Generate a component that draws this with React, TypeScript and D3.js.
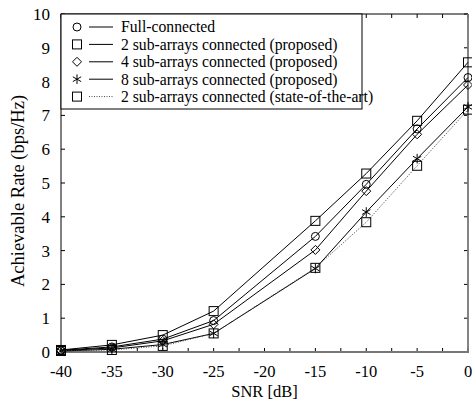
import React from "react";
import * as d3 from "d3";

const snr = [-40, -35, -30, -25, -15, -10, -5, 0];
const fullConnected = [0.05, 0.15, 0.38, 0.93, 3.42, 4.96, 6.6, 8.12];
const sub2Proposed = [0.06, 0.21, 0.5, 1.21, 3.88, 5.28, 6.84, 8.57];
const sub4Proposed = [0.04, 0.12, 0.33, 0.82, 3.02, 4.76, 6.44, 7.9];
const sub8Proposed = [0.03, 0.08, 0.22, 0.55, 2.47, 4.14, 5.72, 7.25];
const sub2StateOfArt = [0.03, 0.06, 0.18, 0.55, 2.49, 3.84, 5.51, 7.17];

const xTickLabels = [-40, -35, -30, -25, -20, -15, -10, -5, 0];
const yTickLabels = [0, 1, 2, 3, 4, 5, 6, 7, 8, 9, 10];
const seriesNames = [
  "Full-connected",
  "2 sub-arrays connected (proposed)",
  "4 sub-arrays connected (proposed)",
  "8 sub-arrays connected (proposed)",
  "2 sub-arrays connected (state-of-the-art)",
];

type Marker = "circle" | "square" | "diamond" | "star";
const series: { name: string; values: number[]; marker: Marker; dotted: boolean }[] = [
  { name: seriesNames[0], values: fullConnected, marker: "circle", dotted: false },
  { name: seriesNames[1], values: sub2Proposed, marker: "square", dotted: false },
  { name: seriesNames[2], values: sub4Proposed, marker: "diamond", dotted: false },
  { name: seriesNames[3], values: sub8Proposed, marker: "star", dotted: false },
  { name: seriesNames[4], values: sub2StateOfArt, marker: "square", dotted: true },
];

const FONT = "'Liberation Serif', 'DejaVu Serif', serif";

function MarkerShape({ type, x, y }: { type: Marker; x: number; y: number }) {
  const s = 4.5;
  const common = { fill: "none", stroke: "#000", strokeWidth: 1 };
  if (type === "circle") return <circle cx={x} cy={y} r={4} {...common} />;
  if (type === "square") return <rect x={x - s} y={y - s} width={2 * s} height={2 * s} {...common} />;
  if (type === "diamond")
    return <path d={`M${x},${y - s}L${x + s},${y}L${x},${y + s}L${x - s},${y}Z`} {...common} />;
  const r = 4.8;
  const a = Math.PI / 6;
  return (
    <path
      d={`M${x},${y - r}L${x},${y + r}M${x - r * Math.cos(a)},${y - r * Math.sin(a)}L${x + r * Math.cos(a)},${y + r * Math.sin(a)}M${x - r * Math.cos(a)},${y + r * Math.sin(a)}L${x + r * Math.cos(a)},${y - r * Math.sin(a)}`}
      {...common}
    />
  );
}

export default function App() {
  const W = 472, H = 400;
  const left = 61, right = 468, top = 14, bottom = 352;
  const x = d3.scaleLinear().domain([-40, 0]).range([left, right]);
  const y = d3.scaleLinear().domain([0, 10]).range([bottom, top]);
  const line = d3
    .line<number>()
    .x((_, i) => x(snr[i]))
    .y((v) => y(v));
  const minorX = d3.range(-40, 0.01, 2.5);
  const tl = 4;

  return (
    <svg
      width={W}
      height={H}
      style={{ position: "absolute", left: 0, top: 0, background: "#fff" }}
      fontFamily={FONT}
    >
      {/* ticks */}
      {yTickLabels.map((v) => (
        <g key={"yt" + v}>
          <line x1={left} x2={left + tl} y1={y(v)} y2={y(v)} stroke="#000" />
          <line x1={right - tl} x2={right} y1={y(v)} y2={y(v)} stroke="#000" />
          <text x={50} y={y(v)} dy="0.35em" textAnchor="end" fontSize={17}>
            {v}
          </text>
        </g>
      ))}
      {minorX.map((v) => (
        <g key={"xt" + v}>
          <line x1={x(v)} x2={x(v)} y1={bottom} y2={bottom - tl} stroke="#000" />
          <line x1={x(v)} x2={x(v)} y1={top} y2={top + tl} stroke="#000" />
        </g>
      ))}
      {xTickLabels.map((v) => (
        <text key={"xl" + v} x={x(v)} y={377} textAnchor="middle" fontSize={16.5}>
          {v}
        </text>
      ))}
      {/* frame */}
      <line x1={left} x2={right} y1={top} y2={top} stroke="#000" />
      <line x1={left} x2={left} y1={top} y2={bottom} stroke="#000" />
      <line x1={left} x2={right + 1} y1={bottom} y2={bottom} stroke="#777" strokeWidth={1.8} />
      <line x1={right} x2={right} y1={top} y2={bottom} stroke="#777" strokeWidth={1.8} />

      {/* axis titles */}
      <text x={(left + right) / 2} y={397} textAnchor="middle" fontSize={16.5}>
        SNR [dB]
      </text>
      <text
        transform={`translate(18, 191) rotate(-90)`}
        textAnchor="middle"
        dy="0.35em"
        fontSize={18.5}
      >
        Achievable Rate (bps/Hz)
      </text>

      {/* series */}
      {series.map((s, k) => (
        <g key={"s" + k}>
          <path
            d={line(s.values) || ""}
            fill="none"
            stroke={s.dotted ? "#444" : "#000"}
            strokeWidth={1}
            strokeDasharray={s.dotted ? "1,1.5" : undefined}
          />
          {s.values.map((v, i) => (
            <MarkerShape key={i} type={s.marker} x={x(snr[i])} y={y(v)} />
          ))}
        </g>
      ))}

      {/* legend */}
      <rect x={left} y={top} width={362 - left} height={109 - top} fill="#fff" stroke="#000" />
      {series.map((s, k) => {
        const ly = 27 + k * 17.4;
        return (
          <g key={"lg" + k}>
            <MarkerShape type={s.marker} x={77} y={ly} />
            <line
              x1={89}
              x2={113}
              y1={ly}
              y2={ly}
              stroke={s.dotted ? "#444" : "#000"}
              strokeDasharray={s.dotted ? "1,1.5" : undefined}
            />
            <text x={121} y={ly} dy="0.35em" fontSize={15.7}>
              {s.name}
            </text>
          </g>
        );
      })}
    </svg>
  );
}
